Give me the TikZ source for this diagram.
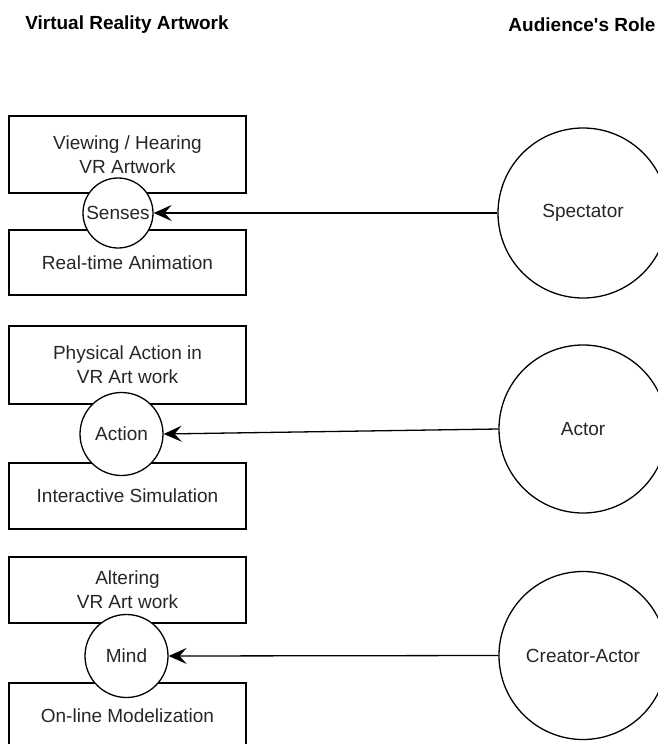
\documentclass[tikz,border=0pt]{standalone}
\usepackage{fontspec}
\setmainfont{Liberation Sans}
\usetikzlibrary{arrows.meta}
\begin{document}
\begin{tikzpicture}[x=1pt,y=-1pt,
  every node/.style={font=\fontsize{19}{24}\selectfont, text=black!85},
  stage/.style={draw, line width=1.3pt, minimum width=237pt, align=center, inner sep=0pt},
  sense/.style={draw, circle, line width=1.3pt, fill=white, inner sep=0pt},
  role/.style={draw, circle, line width=1.3pt, fill=white, inner sep=0pt},
  heading/.style={font=\fontsize{19}{24}\selectfont\bfseries, text=black},
  link/.style={line width=1.3pt, -{Stealth[length=18pt,width=16pt,inset=7pt]}}]
  \useasboundingbox (0,0) rectangle (658,744);
  \clip (0,0) rectangle (658,744);

  % column headings
  \node[heading] (hleft) at (127,25) {Virtual Reality Artwork};
  \node[heading] (hright) at (582,25) {Audience\textquotesingle s Role};

  % artwork stages
  \node[stage, minimum height=77pt] (view) at (127.5,154.5) {Viewing / Hearing\\VR Artwork};
  \node[stage, minimum height=65pt] (anim) at (127.5,262.5) {Real-time Animation};
  \node[stage, minimum height=78pt] (phys) at (127.5,365) {Physical Action in\\VR Art work};
  \node[stage, minimum height=66pt] (sim) at (127.5,496) {Interactive Simulation};
  \node[stage, minimum height=66pt] (alter) at (127.5,590) {Altering\\VR Art work};
  \node[stage, minimum height=66pt] (model) at (127.5,716) {On-line Modelization};

  % faculties engaged
  \node[sense, minimum size=70pt] (senses) at (118,213) {Senses};
  \node[sense, minimum size=83pt] (action) at (121.5,434) {Action};
  \node[sense, minimum size=83pt] (mind) at (126.5,656) {Mind};

  % audience roles
  \node[role, minimum size=170pt] (spectator) at (583,213) {Spectator};
  \node[role, minimum size=168pt] (actor) at (583,429) {Actor};
  \node[role, minimum size=168pt] (creator) at (583,655.5) {Creator-Actor};

  % role to faculty
  \draw[link] (spectator.west) -- (senses.east);
  \draw[link] (actor.west) -- (action.east);
  \draw[link] (creator.west) -- (mind.east);
\end{tikzpicture}
\end{document}
